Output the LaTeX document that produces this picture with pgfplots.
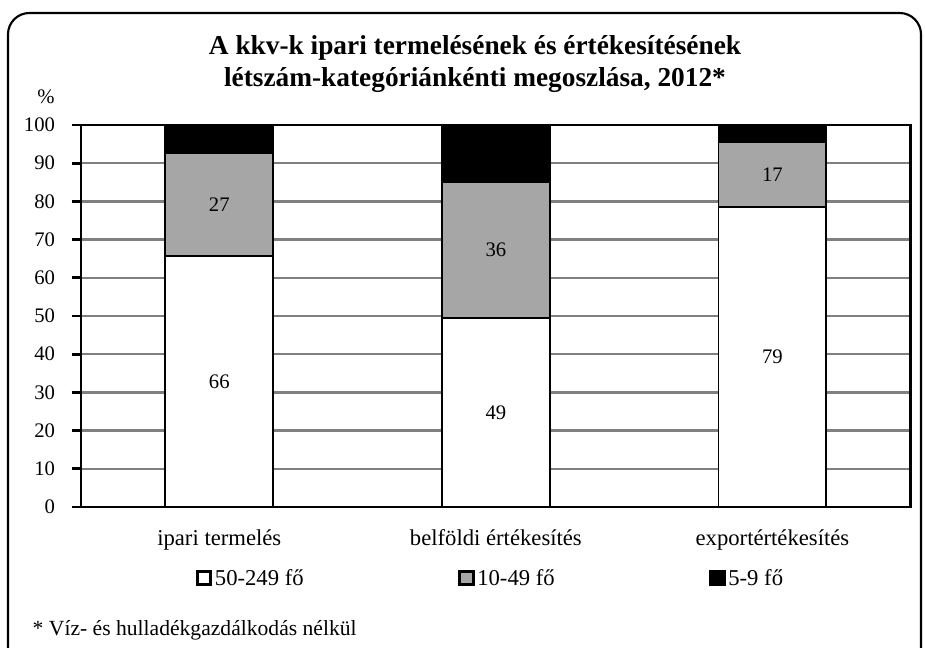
\documentclass[border=0pt]{standalone}
\usepackage{pgfplots}
\pgfplotsset{compat=1.18}
\usepackage{pgfplotstable}
\usepackage{fontspec}
\setmainfont{Liberation Serif}
\definecolor{gridgray}{RGB}{128,128,128}
\definecolor{bargray}{RGB}{166,166,166}
\pgfplotstableread{
x w g b wl gl
0 65.6 27.0 7.4 66 27
1 49.4 35.7 14.9 49 36
2 78.6 17.0 4.4 79 17
}\data
\begin{document}
\begin{tikzpicture}[x=0.75pt,y=0.75pt]
\useasboundingbox (0,0) rectangle (925,647);
\draw[line width=1.6pt, rounded corners=16pt] (8,-30) -- (8,634) -- (921,634) -- (921,-30);
\node[font=\fontsize{20.5}{24}\selectfont\bfseries, align=center] at (475,583)
  {A kkv-k ipari termelésének és értékesítésének\\ létszám-kategóriánkénti megoszlása, 2012*};
\node[font=\fontsize{15.5}{18}\selectfont] at (46,550) {\%};
\node[font=\fontsize{16.2}{19}\selectfont, anchor=west] at (28,17) {* Víz- és hulladékgazdálkodás nélkül};
\begin{axis}[
  at={(60.75pt,105pt)}, anchor=south west,
  width=622.3pt, height=286.5pt, scale only axis,
  ybar stacked, bar width=0.39,
  xmin=-0.5, xmax=2.5, ymin=0, ymax=100,
  xtick={0,1,2},
  xticklabels={ipari termelés, belföldi értékesítés, exportértékesítés},
  ytick={0,10,...,100},
  ytick pos=left,
  /pgf/number format/assume math mode=true,
  yticklabel style={font=\fontsize{15.5}{18}\selectfont, xshift=-9pt},
  xticklabel style={font=\fontsize{17}{20}\selectfont, yshift=-6pt, text height=12pt, text depth=4pt},
  major x tick style={draw=none},
  tick align=outside,
  major tick length=7pt,
  every tick/.style={black, line width=2pt},
  ymajorgrids,
  grid style={gridgray, line width=1.8pt},
  axis line style={line width=2pt},
  legend columns=3,
  legend style={at={(0.494,-0.186)}, anchor=center, draw=none,
    font=\fontsize{17}{20}\selectfont,
    /tikz/every even column/.append style={column sep=114pt}},
  legend image code/.code={\draw[#1, draw=black, line width=2.2pt] (0pt,-5pt) rectangle (10pt,5pt);},
]
\addplot[fill=white, draw=black, line width=1.4pt,
  point meta=explicit symbolic, nodes near coords,
  every node near coord/.style={font=\fontsize{15.5}{18}\selectfont, anchor=center, text=black}]
  table[x=x, y=w, meta=wl] {\data};
\addplot[fill=bargray, draw=black, line width=1.4pt,
  point meta=explicit symbolic, nodes near coords,
  every node near coord/.style={font=\fontsize{15.5}{18}\selectfont, anchor=center, text=black}]
  table[x=x, y=g, meta=gl] {\data};
\addplot[fill=black, draw=black, line width=1.4pt]
  table[x=x, y=b] {\data};
\legend{50-249 fő, 10-49 fő, 5-9 fő}
\end{axis}
\end{tikzpicture}
\end{document}
